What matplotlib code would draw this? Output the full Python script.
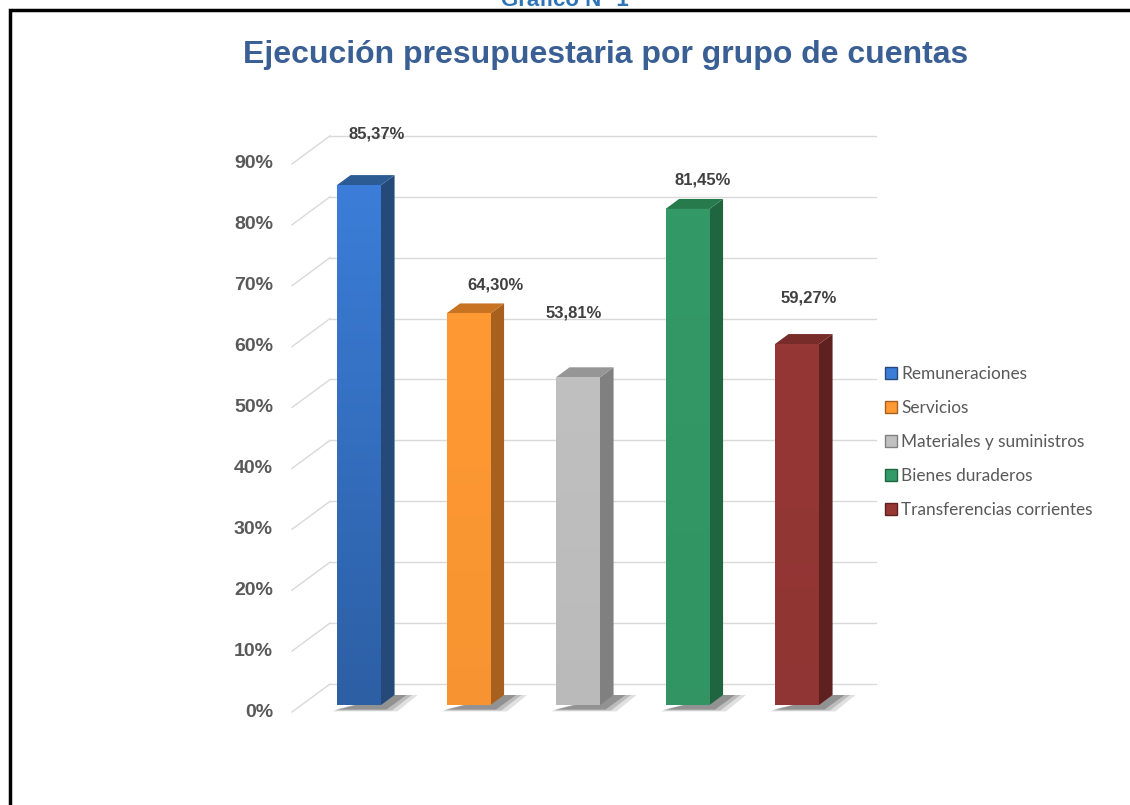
import numpy as np
import matplotlib.pyplot as plt
from matplotlib.colors import to_rgb
from matplotlib.patches import Polygon, Patch, Rectangle

# data
categories = ['Remuneraciones', 'Servicios', 'Materiales y suministros',
              'Bienes duraderos', 'Transferencias corrientes']
values = [85.37, 64.30, 53.81, 81.45, 59.27]
labels = ['85,37%', '64,30%', '53,81%', '81,45%', '59,27%']
ticks = [0, 10, 20, 30, 40, 50, 60, 70, 80, 90]

# colours: front, side, top
front = ['#3B7DD8', '#FF9933', '#C0C0C0', '#339966', '#953735']
side = ['#254A7A', '#A8601E', '#808080', '#1F6640', '#5E2120']
top = ['#2C5B94', '#C87322', '#969696', '#267A4C', '#772C2A']
grad = [0.76, 0.97, 0.97, 0.97, 0.97]   # darkening at the bottom of the front face

# label offsets from the top-front centre of each bar (pixels)
lab_off = [(18, 51), (27, 28), (-4, 64), (15, 29), (12, 46)]

# pixel geometry of the pseudo 3D box
SX = 109.5          # px per category
SY = 6.09           # px per percent
X0 = 349.5          # px of category 0 on the front plane
Y0 = 712            # px (from top) of 0% on the front plane
DX = 38 / SX        # depth vector (one full depth) in data units
DY = 28 / SY
W, H = 1130, 805

fig = plt.figure(figsize=(W / 100, H / 100), dpi=100)
ax = fig.add_axes([0, 0, 1, 1])
ax.axis('off')

wall_x = (292 - X0) / SX
end_x = (876 - X0) / SX
grid_c = '#D9D9D9'
for t in ticks:
    ax.plot([wall_x, wall_x + DX], [t, t + DY], color=grid_c, lw=1, zorder=1)
    ax.plot([wall_x + DX, end_x], [t + DY, t + DY], color=grid_c, lw=1, zorder=1)
    ax.text((273 - X0) / SX, t, f'{t}%', ha='right', va='center',
            fontsize=14, fontweight='bold', color='#595959',
            family='Liberation Sans')

# bars
zf = 0.25
dd = 10 / 28
bw = 44 / SX
for i, v in enumerate(values):
    xl = i - bw / 2 + zf * DX
    xr = i + bw / 2 + zf * DX
    yb = zf * DY
    yt = v + zf * DY
    ox, oy = dd * DX, dd * DY
    # shadow
    for k, a in enumerate([0.12, 0.16, 0.22]):
        g = 0.05 * (3 - k)
        sh = Polygon([(xl - g * 0.3, yb - 0.6 - g * 3), (xr + g, yb - 0.6 - g * 3),
                      (xr + ox + 0.06 + g, yb + oy), (xr + ox, yb + oy)],
                     closed=True, fc='#000000', ec='none', alpha=a, zorder=2)
        ax.add_patch(sh)
    ax.add_patch(Polygon([(xr, yb), (xr + ox, yb + oy), (xr + ox, yt + oy), (xr, yt)],
                         closed=True, fc=side[i], ec='none', zorder=3))
    ax.add_patch(Polygon([(xl, yt), (xr, yt), (xr + ox, yt + oy), (xl + ox, yt + oy)],
                         closed=True, fc=top[i], ec='none', zorder=3))
    # front face with a vertical gradient
    poly = Rectangle((xl, yb), xr - xl, yt - yb, fc='none', ec='none')
    ax.add_patch(poly)
    base = np.array(to_rgb(front[i]))
    shade = np.linspace(grad[i], 1.0, 64)[:, None] * base
    img = ax.imshow(shade[:, None, :], extent=(xl, xr, yb, yt), origin='lower',
                    aspect='auto', zorder=4)
    img.set_clip_path(poly)
    ax.annotate(labels[i], (i + zf * DX, yt), xytext=lab_off[i],
                textcoords='offset pixels', ha='center', va='center',
                fontsize=12, fontweight='bold', color='#404040',
                family='Liberation Sans', zorder=5)

ax.set_xlim(-X0 / SX, (W - X0) / SX)
ax.set_ylim(-(H - Y0) / SY, Y0 / SY)

# title and frame
fig.text(606 / W, 1 - 55 / H, 'Ejecución presupuestaria por grupo de cuentas',
         ha='center', va='center', fontsize=23, fontweight='bold',
         color='#3A5F95', family='Liberation Sans')
fig.text(565 / W, 1 - 6 / H, 'Gráfico N° 1', ha='center', va='baseline',
         fontsize=16, fontweight='bold', color='#2E75B6', family='Liberation Sans')
fig.patches.append(Rectangle((10 / W, -0.1), 1.2, 1.1 - 10 / H, transform=fig.transFigure,
                             fill=False, lw=2.5, ec='black'))

handles = [Patch(fc=front[i], ec=side[i], lw=1) for i in range(len(categories))]
fig.legend(handles, categories, loc='upper left', bbox_to_anchor=(876 / W, 1 - 357 / H),
           frameon=False, handlelength=0.7, handleheight=0.7, handletextpad=0.25,
           labelspacing=1.05, borderpad=0, prop={'family': 'Lato', 'size': 12.4},
           labelcolor='#595959')

fig.savefig('out.png', dpi=100)
